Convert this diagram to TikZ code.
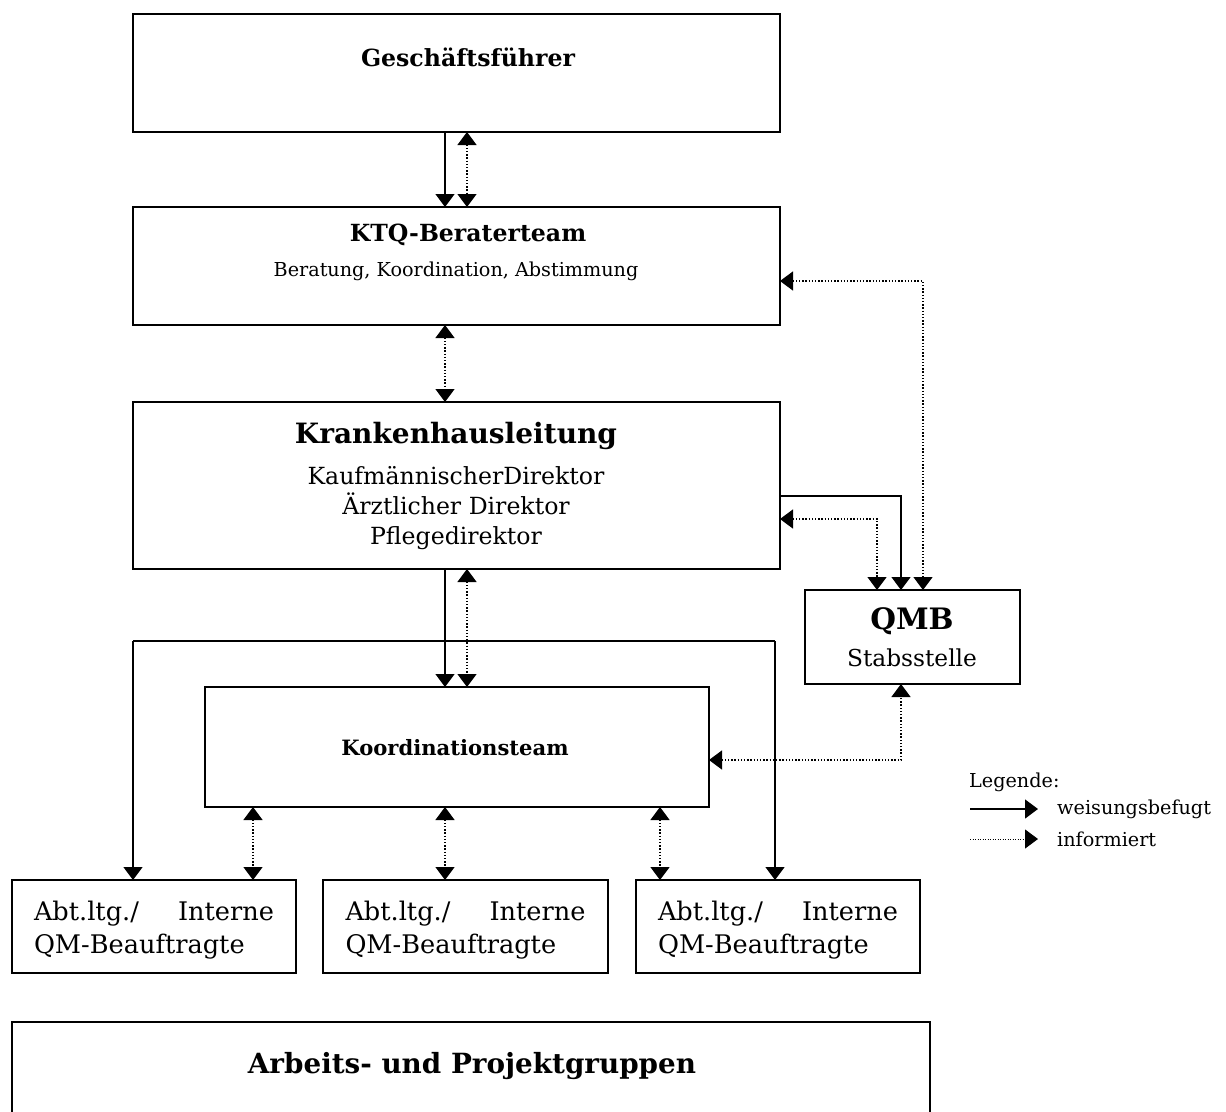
\documentclass[tikz,border=0pt]{standalone}
\usepackage{fontspec}
\setmainfont{DejaVu Serif}
\usetikzlibrary{arrows.meta}
\newcommand{\fsz}[1]{\fontsize{#1}{\fpeval{#1*1.2}}\selectfont}
\tikzset{
  box/.style={draw, line width=1.6pt, anchor=north west, inner sep=0pt, outer sep=0pt},
  lbl/.style={inner sep=0pt, align=center},
  solidarr/.style={line width=1.4pt, -{Triangle[width=19pt,length=13pt]}},
  dotarr/.style={line width=1.4pt, dash pattern=on 1.4pt off 1.8pt, {Triangle[width=19pt,length=13pt]}-{Triangle[width=19pt,length=13pt]}},
  dotone/.style={line width=1.4pt, dash pattern=on 1.4pt off 1.8pt, -{Triangle[width=19pt,length=13pt]}},
  plain/.style={line width=1.4pt},
}
\begin{document}
\begin{tikzpicture}[x=1pt,y=-1pt]
\useasboundingbox (0,0) rectangle (1226,1111);
% boxes
\node[box, minimum width=647, minimum height=118] (gf) at (133,14) {};
\node[box, minimum width=647, minimum height=118] (ktq) at (133,207) {};
\node[box, minimum width=647, minimum height=167] (kkl) at (133,402) {};
\node[box, minimum width=215, minimum height=94] (qmb) at (805,590) {};
\node[box, minimum width=504, minimum height=120] (kt) at (205,687) {};
\node[box, minimum width=284, minimum height=93] (a1) at (12,880) {};
\node[box, minimum width=285, minimum height=93] (a2) at (323,880) {};
\node[box, minimum width=284, minimum height=93] (a3) at (636,880) {};
\node[box, minimum width=918, minimum height=110] (ap) at (12,1022) {};
% texts
\node[lbl, font=\fsz{23.6}\bfseries] (gft) at (468,57) {Geschäftsführer};
\node[lbl, font=\fsz{23.6}\bfseries] (ktqt) at (468,235) {KTQ-Beraterteam};
\node[lbl, font=\fsz{19.2}] (ktqs) at (456,271) {Beratung, Koordination, Abstimmung};
\node[lbl, font=\fsz{28}\bfseries] (kklt) at (456,436) {Krankenhausleitung};
\node[lbl, font=\fsz{23.6}, align=center] (kkls) at (456,508) {KaufmännischerDirektor\\[1.5pt]Ärztlicher Direktor\\[1.5pt]Pflegedirektor};
\node[lbl, font=\fsz{29.5}\bfseries] (qmbt) at (912,621) {QMB};
\node[lbl, font=\fsz{23.3}] (qmbs) at (912,658) {Stabsstelle};
\node[lbl, font=\fsz{21.1}\bfseries] (ktt) at (455,748) {Koordinationsteam};
\foreach \b in {a1,a2,a3}{
  \node[lbl, font=\fsz{25.6}, text width=240, align=left] (\b t) at ([yshift=-50pt]\b.north) {Abt.ltg./\hfill Interne\\[1.5pt]QM-Beauftragte};
}
\node[lbl, font=\fsz{27.8}\bfseries] (apt) at (472,1066) {Arbeits- und Projektgruppen};
% helper coordinates
\coordinate (x445) at (445,0);
\coordinate (x467) at (467,0);
\coordinate (x253) at (253,0);
\coordinate (x660) at (660,0);
\coordinate (x877) at (877,0);
\coordinate (x901) at (901,0);
\coordinate (x923) at (923,0);
\coordinate (y281) at (0,281);
\coordinate (y496) at (0,496);
\coordinate (y519) at (0,519);
\coordinate (y760) at (0,760);
\coordinate (y641) at (0,641);
\coordinate (x133) at (133,0);
\coordinate (x775) at (775,0);
% main vertical connectors
\draw[solidarr] (gf.south -| x445) -- (ktq.north -| x445);
\draw[dotarr] (gf.south -| x467) -- (ktq.north -| x467);
\draw[dotarr] (ktq.south -| x445) -- (kkl.north -| x445);
\draw[solidarr] (kkl.south -| x445) -- (kt.north -| x445);
\draw[dotarr] (kkl.south -| x467) -- (kt.north -| x467);
% bracket to outer departments
\coordinate (bl) at (x133 |- y641);
\coordinate (br) at (x775 |- y641);
\draw[solidarr] (bl) -- (a1.north -| x133);
\draw[plain] (bl) -- (br);
\draw[solidarr] (br) -- (a3.north -| x775);
% Koordinationsteam to departments
\draw[dotarr] (kt.south -| x253) -- (a1.north -| x253);
\draw[dotarr] (kt.south -| x445) -- (a2.north -| x445);
\draw[dotarr] (kt.south -| x660) -- (a3.north -| x660);
% to QMB
\draw[solidarr] (kkl.east |- y496) -| (qmb.north -| x901);
\draw[dotarr] (kkl.east |- y519) -| (qmb.north -| x877);
\draw[dotarr] (ktq.east |- y281) -| (qmb.north -| x923);
\draw[dotarr] (kt.east |- y760) -| (qmb.south -| x901);
% legend
\node[lbl, font=\fsz{19.2}, anchor=west] (leg) at (969,782) {Legende:};
\coordinate (l1a) at (970,809);
\coordinate (l1b) at (1038,809);
\coordinate (l2a) at (970,839);
\coordinate (l2b) at (1038,839);
\draw[solidarr] (l1a) -- (l1b);
\draw[dotone, line width=1pt, dash pattern=on 1pt off 1.5pt] (l2a) -- (l2b);
\node[lbl, font=\fsz{19.2}, anchor=west] (leg1) at (1057,809) {weisungsbefugt};
\node[lbl, font=\fsz{19.2}, anchor=west] (leg2) at (1057,839) {informiert};
\end{tikzpicture}
\end{document}
